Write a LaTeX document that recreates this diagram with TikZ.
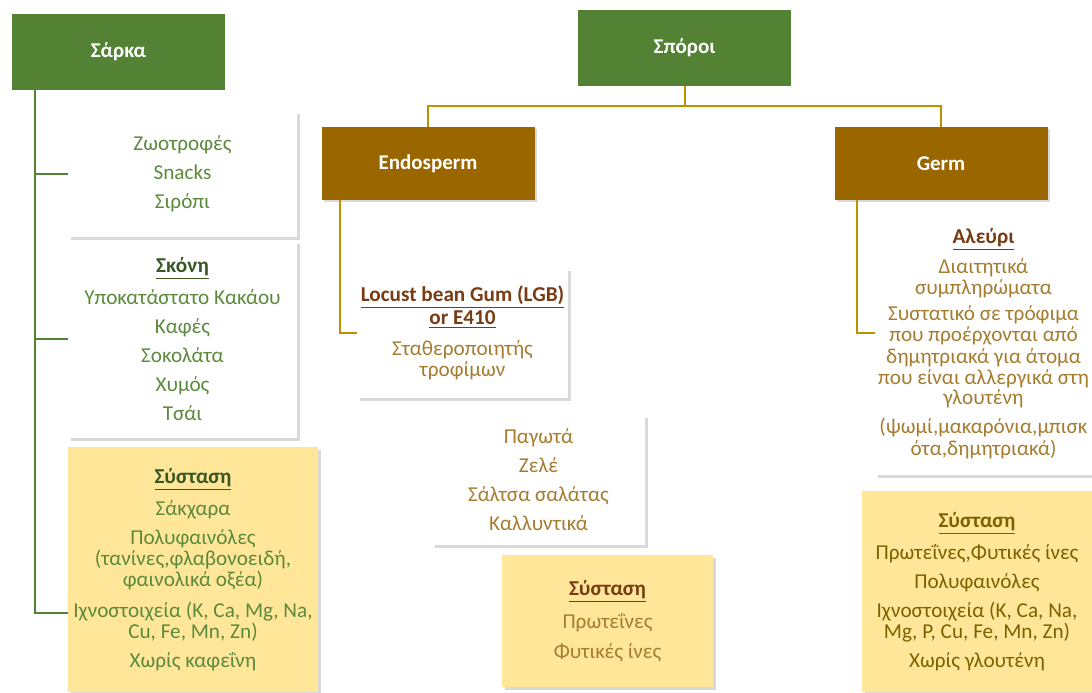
\documentclass[tikz,border=0pt]{standalone}
\usepackage{fontspec}
\setmainfont{Carlito}
\usetikzlibrary{shadows}

\definecolor{hdrgreen}{RGB}{84,130,53}
\definecolor{txtgreen}{RGB}{92,138,60}
\definecolor{ttlgreen}{RGB}{56,87,35}
\definecolor{hdrbrown}{RGB}{153,102,0}
\definecolor{linegold}{RGB}{191,144,0}
\definecolor{txtbrown}{RGB}{166,124,46}
\definecolor{ttlbrown}{RGB}{120,60,20}
\definecolor{txtolive}{RGB}{127,96,0}
\definecolor{boxyellow}{RGB}{255,230,153}

\begin{document}
\begin{tikzpicture}[x=0.5pt,y=-0.5pt,
  head node/.style={minimum width=106.5pt,minimum height=38pt,text=white,
    font=\fontsize{10.5}{12}\selectfont\bfseries},
  green head/.style={head node,fill=hdrgreen},
  brown head/.style={head node,fill=hdrbrown,
    drop shadow={shadow xshift=1pt,shadow yshift=-1pt,opacity=0.3}},
  info node/.style={fill=white,align=center,inner sep=1pt,
    font=\fontsize{10.6}{10.5}\selectfont,
    drop shadow={shadow xshift=1.5pt,shadow yshift=-1.5pt,opacity=0.3}},
  yellow node/.style={info node,fill=boxyellow},
  green line/.style={draw=hdrgreen,line width=1pt},
  gold line/.style={draw=linegold,line width=1pt}]

  \clip (0,0) rectangle (1092,692);

  % headers
  \node[green head] (sarka) at (118.5,51.5) {Σάρκα};
  \node[green head] (sporoi) at (684.5,47.5) {Σπόροι};
  \node[brown head,minimum height=36.5pt] (endo) at (428,163.5) {Endosperm};
  \node[brown head,minimum height=36.5pt] (germ) at (941,163.5) {Germ};

  % Σάρκα
  \node[info node,text=txtgreen,minimum width=114.5pt,minimum height=63pt] (zwo) at (182.5,174)
    {Ζωοτροφές\\[4pt]Snacks\\[4pt]Σιρόπι};
  \node[info node,text=txtgreen,minimum width=114.5pt,minimum height=98.5pt] (skoni) at (182.5,339)
    {{\color{ttlgreen}\underline{\textbf{Σκόνη}}}\\[4pt]Υποκατάστατο Κακάου\\[4pt]Καφές\\[4pt]Σοκολάτα\\[4pt]Χυμός\\[4pt]Τσάι};
  \node[yellow node,text=txtgreen,minimum width=125pt,minimum height=122.5pt] (sys1) at (193,569.5)
    {{\color{ttlgreen}\underline{\textbf{Σύσταση}}}\\[4pt]Σάκχαρα\\[4pt]Πολυφαινόλες\\(τανίνες,φλαβονοειδή,\\φαινολικά οξέα)\\[5pt]Ιχνοστοιχεία (K, Ca, Mg, Na,\\Cu, Fe, Mn, Zn)\\[4pt]Χωρίς καφεΐνη};

  % Endosperm
  \node[info node,text=txtbrown,minimum width=105.5pt,minimum height=65pt] (lgb) at (462.5,333)
    {{\color{ttlbrown}\underline{\textbf{Locust bean Gum (LGB)}}}\\{\color{ttlbrown}\underline{\textbf{or E410}}}\\[5pt]Σταθεροποιητής\\τροφίμων};
  \node[info node,text=txtbrown,minimum width=106.5pt,minimum height=65pt] (pagwta) at (538.5,480)
    {Παγωτά\\[4pt]Ζελέ\\[4pt]Σάλτσα σαλάτας\\[4pt]Καλλυντικά};
  \node[yellow node,text=txtbrown,minimum width=105.5pt,minimum height=66pt] (sys2) at (607.5,621)
    {{\color{ttlbrown}\underline{\textbf{Σύσταση}}}\\[4.5pt]Πρωτεΐνες\\[4.5pt]Φυτικές ίνες};

  % Germ
  \node[info node,text=txtbrown,minimum width=108.5pt,minimum height=131.5pt] (alevri) at (983.5,343.5)
    {{\color{ttlbrown}\underline{\textbf{Αλεύρι}}}\\[2.5pt]Διαιτητικά\\συμπληρώματα\\[3pt]Συστατικό σε τρόφιμα\\που προέρχονται από\\δημητριακά για άτομα\\που είναι αλλεργικά στη\\γλουτένη\\[4pt](ψωμί,μακαρόνια,μπισκ\\ότα,δημητριακά)};
  \node[yellow node,text=txtolive,minimum width=115pt,minimum height=100.5pt] (sys3) at (977,591.5)
    {\underline{\textbf{Σύσταση}}\\[4pt]Πρωτεΐνες,Φυτικές ίνες\\[4pt]Πολυφαινόλες\\[4pt]Ιχνοστοιχεία (K, Ca, Na,\\Mg, P, Cu, Fe, Mn, Zn)\\[4pt]Χωρίς γλουτένη};

  % connectors
  \coordinate (trunk) at (35,0);
  \coordinate (sarkain) at (68,613);
  \coordinate (split) at (685,106);
  \coordinate (endotrunk) at (340,0);
  \coordinate (germtrunk) at (857,0);
  \coordinate (germin) at (875,333);

  \draw[green line] (sarka.south -| trunk) |- (zwo.west);
  \draw[green line] (sarka.south -| trunk) |- (skoni.west);
  \draw[green line] (sarka.south -| trunk) |- (sarkain);

  \draw[gold line] (sporoi.south -| split) -- (split);
  \draw[gold line] (endo.north) |- (split) -| (germ.north);
  \draw[gold line] (endo.south -| endotrunk) |- (lgb.west);
  \draw[gold line] (germ.south -| germtrunk) |- (germin);
\end{tikzpicture}
\end{document}
